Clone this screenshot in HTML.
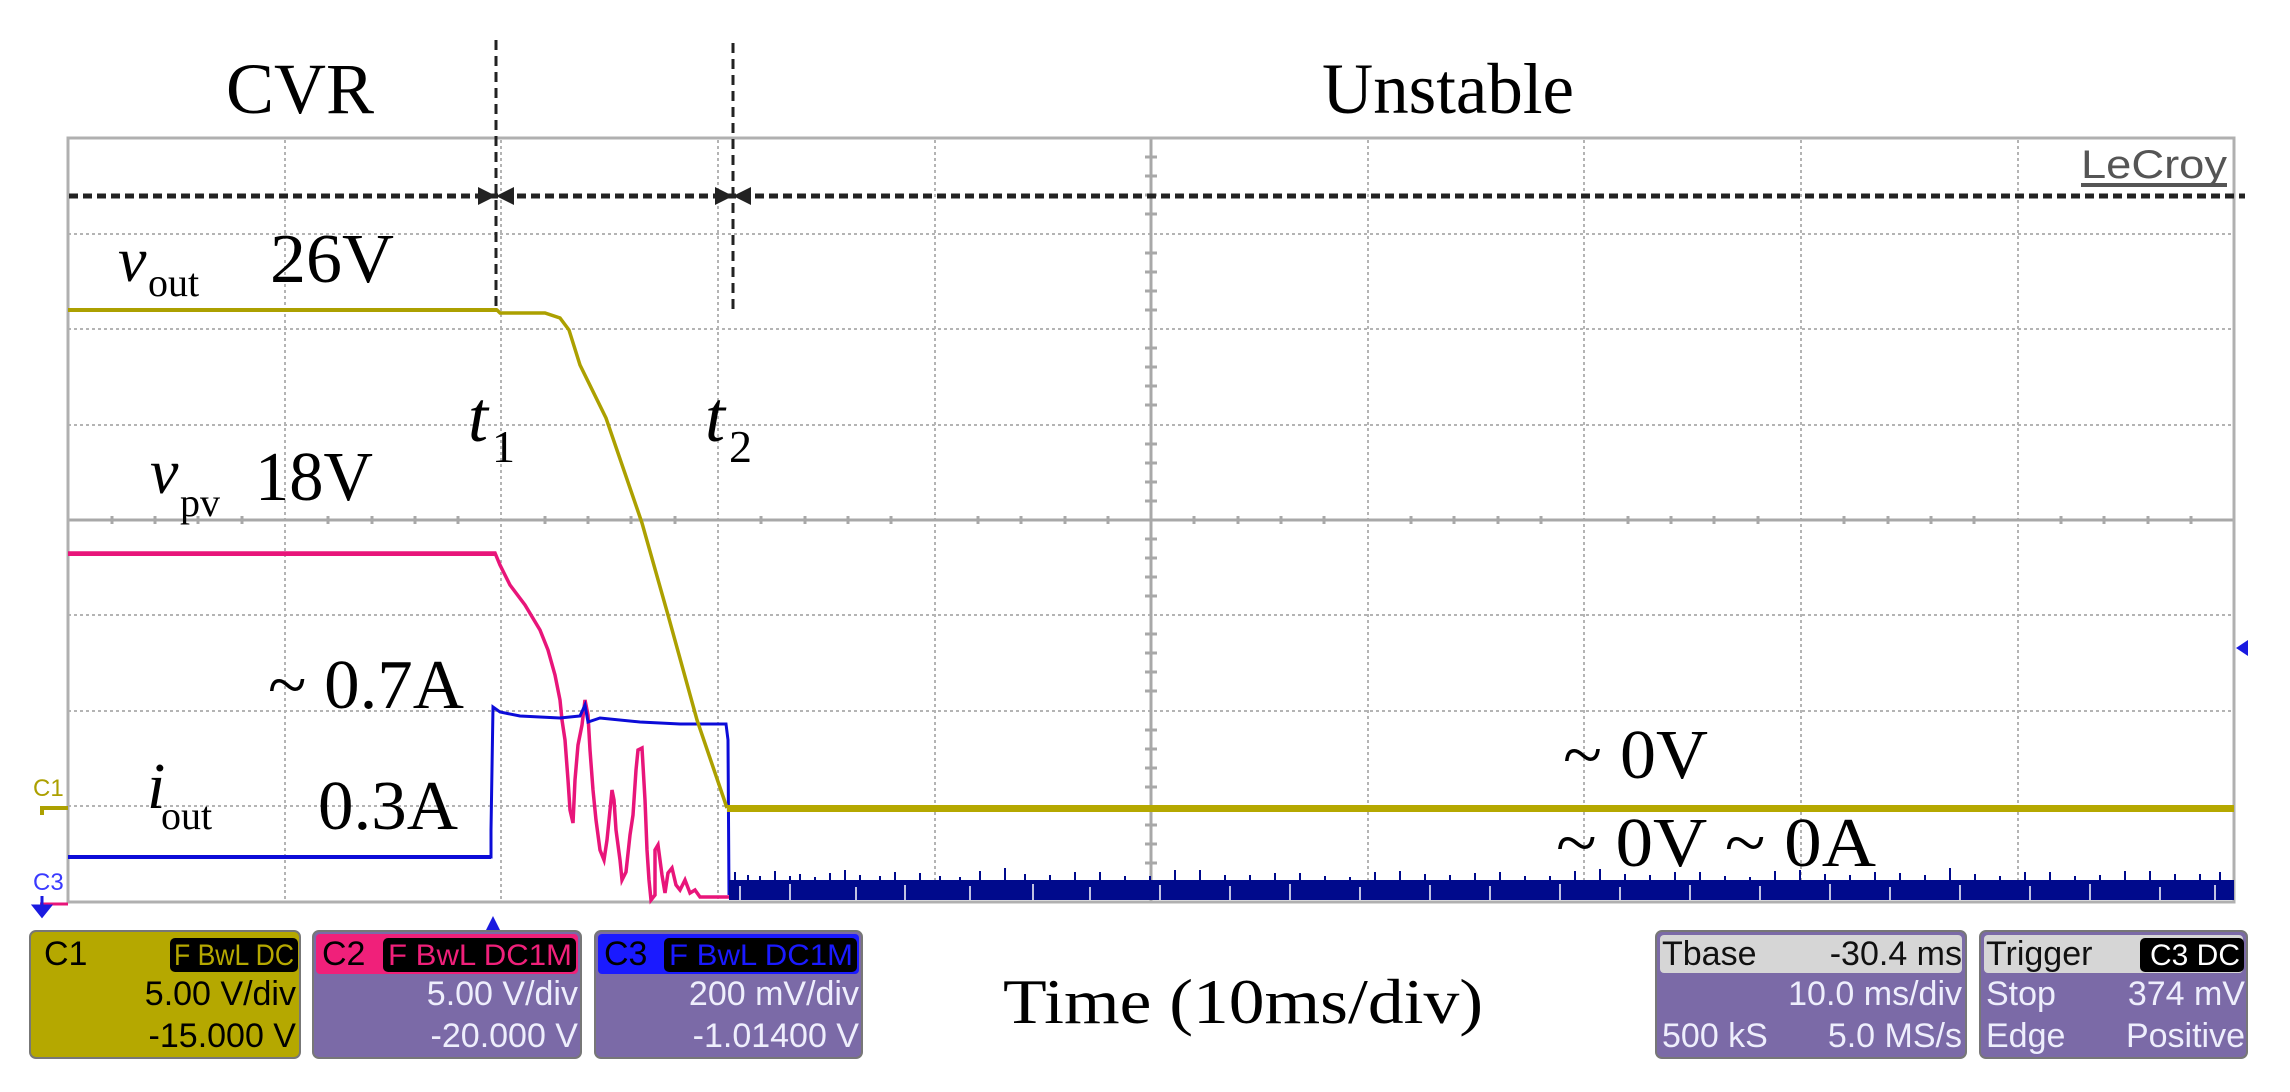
<!DOCTYPE html>
<html><head><meta charset="utf-8"><style>
html,body{margin:0;padding:0;background:#fff;}
svg{display:block;}
.s{font-family:"Liberation Serif",serif;fill:#000;}
.b{font-family:"Liberation Sans",sans-serif;}
</style></head><body>
<svg width="2290" height="1092" viewBox="0 0 2290 1092" xmlns="http://www.w3.org/2000/svg">
<rect width="2290" height="1092" fill="#fff"/>
<g stroke="#b4b4b4" stroke-width="2" stroke-dasharray="3,3" fill="none">
<path d="M285 140V902M501 140V902M718 140V902M935 140V902M1368 140V902M1584 140V902M1801 140V902M2018 140V902"/>
<path d="M68 234H2234M68 329H2234M68 425H2234M68 615H2234M68 711H2234M68 806H2234"/>
</g>
<g stroke="#a8a8a8" stroke-width="3" fill="none">
<path d="M1151 138V902M68 520H2234"/>
</g>
<g stroke="#a8a8a8" stroke-width="3">
<path d="M112 516v8M155 516v8M198 516v8M242 516v8M328 516v8M372 516v8M415 516v8M458 516v8M545 516v8M588 516v8M631 516v8M675 516v8M761 516v8M805 516v8M848 516v8M891 516v8M978 516v8M1021 516v8M1065 516v8M1108 516v8M1194 516v8M1238 516v8M1281 516v8M1324 516v8M1411 516v8M1454 516v8M1498 516v8M1541 516v8M1628 516v8M1671 516v8M1714 516v8M1758 516v8M1844 516v8M1888 516v8M1931 516v8M1974 516v8M2061 516v8M2104 516v8M2148 516v8M2191 516v8"/>
<path d="M1145 157h12M1145 176h12M1145 195h12M1145 214h12M1145 253h12M1145 272h12M1145 291h12M1145 310h12M1145 348h12M1145 367h12M1145 386h12M1145 405h12M1145 444h12M1145 463h12M1145 482h12M1145 501h12M1145 539h12M1145 558h12M1145 577h12M1145 596h12M1145 634h12M1145 653h12M1145 672h12M1145 691h12M1145 730h12M1145 749h12M1145 768h12M1145 787h12M1145 825h12M1145 844h12M1145 863h12M1145 882h12"/>
</g>
<rect x="68" y="138" width="2166" height="764" fill="none" stroke="#b0b0b0" stroke-width="3"/>
<text x="2081" y="178" class="b" font-size="40" fill="#555" textLength="146" lengthAdjust="spacingAndGlyphs">LeCroy</text>
<rect x="2081" y="183" width="146" height="4" fill="#555"/>
<polyline fill="none" stroke="#e8157a" stroke-width="3.5" points="68,553 495,553 500,565 510,585 525,605 540,630 548,650 555,675 560,700 562,720 565,740 568,780 570,810 573,823 575,780 578,745 582,725 585,700 588,715 590,750 593,790 596,820 600,850 604,860 607,840 610,810 612,790 614,800 616,830 620,860 622,880 626,872 630,835 633,815 636,770 638,750 642,748 645,800 647,850 649,880 651,900 655,895 655,850 658,845 662,875 665,893 668,873 672,868 676,885 680,890 685,880 690,893 695,890 700,897 730,897"/>
<polyline fill="none" stroke="#0c0cd8" stroke-width="3" points="68,857 491,857 491,830 493,707 500,712 520,716 560,718 580,716 585,705 588,722 600,718 640,722 680,724 726,724 728,740 729,895"/>
<rect x="68" y="552" width="427" height="4" fill="#e8157a"/>
<rect x="68" y="855" width="423" height="4" fill="#0c0cd8"/>
<rect x="729" y="880" width="1505" height="20" fill="#000a8c"/>
<path stroke="#000a8c" stroke-width="2" d="M735 872v10M748 875v8M760 876v8M775 871v10M790 876v6M800 874v8M815 877v6M830 873v9M845 870v12M860 875v6M880 876v6M895 872v9M920 873v9M940 876v6M960 877v6M980 871v10M1005 868v14M1025 874v8M1050 875v8M1075 872v10M1100 872v10M1125 876v6M1150 876v6M1175 870v12M1200 870v12M1225 875v8M1250 875v8M1275 873v9M1300 873v9M1325 876v6M1350 877v6M1375 872v10M1400 871v11M1425 874v8M1450 875v8M1475 873v9M1500 872v10M1525 876v6M1550 876v6M1575 871v11M1600 869v13M1625 874v8M1650 875v8M1675 872v10M1700 872v10M1725 876v6M1750 877v6M1775 871v11M1800 870v12M1825 874v8M1850 875v8M1875 872v10M1900 873v9M1925 875v7M1950 868v14M1975 874v8M2000 876v6M2025 872v10M2050 872v10M2075 876v6M2100 875v8M2125 871v11M2150 871v11M2175 874v8M2200 874v8M2220 872v10"/>
<g stroke="#fff" stroke-width="1.5"><path d="M740 886v14M790 884v16M856 887v13M905 885v15M970 886v14M1033 884v16M1090 887v13M1160 885v15M1230 886v14M1290 884v16M1360 887v13M1430 885v15M1490 886v14M1560 884v16M1620 887v13M1690 885v15M1760 886v14M1830 884v16M1890 887v13M1960 885v15M2030 886v14M2090 884v16M2160 887v13M2215 885v15"/></g>
<polyline fill="none" stroke="#aca000" stroke-width="3.5" points="68,310 497,310 500,313 545,313 560,318 569,330 580,365 606,418 642,523 668,615 697,720 727,808"/>
<rect x="68" y="308" width="429" height="4" fill="#aca000"/>
<rect x="727" y="805" width="1507" height="7" fill="#b5a800"/>
<text x="33" y="796" class="b" font-size="24" fill="#aca000">C1</text>
<path d="M40 806h28v4H44v5h-4z" fill="#aca000"/>
<text x="33" y="890" class="b" font-size="24" fill="#3a3aff">C3</text>
<path d="M40 904h28" stroke="#e8157a" stroke-width="3"/>
<path d="M42 896v14M34 906l8 10 8-10z" stroke="#1a1ae0" stroke-width="3" fill="#1a1ae0"/>
<path d="M493 916l-7 14h14z" fill="#1a1ae0"/>
<path d="M2236 648l12-8v16z" fill="#1a1ae0"/>
<g stroke="#222" stroke-width="3" fill="none" stroke-dasharray="10,6">
<path d="M496 40V310M733 43V310"/>
</g>
<path d="M69 196H2245" stroke="#222" stroke-width="5" stroke-dasharray="9,5"/>
<g fill="#222">
<path d="M496 196l-18-9v18zM496 196l18-9v18zM733 196l-18-9v18zM733 196l18-9v18z"/>
</g>
<g class="s">
<text x="226" y="113" font-size="72" textLength="148" lengthAdjust="spacingAndGlyphs">CVR</text>
<text x="1322" y="113" font-size="72" textLength="252" lengthAdjust="spacingAndGlyphs">Unstable</text>
<text x="118" y="281" font-size="64" font-style="italic">v</text>
<text x="148" y="296" font-size="40">out</text>
<text x="270" y="282" font-size="70" textLength="124" lengthAdjust="spacingAndGlyphs">26V</text>
<text x="468" y="441" font-size="72" font-style="italic">t</text>
<text x="492" y="462" font-size="46">1</text>
<text x="705" y="441" font-size="72" font-style="italic">t</text>
<text x="729" y="462" font-size="46">2</text>
<text x="150" y="493" font-size="64" font-style="italic">v</text>
<text x="180" y="516" font-size="40">pv</text>
<text x="255" y="500" font-size="70" textLength="118" lengthAdjust="spacingAndGlyphs">18V</text>
<text x="268" y="708" font-size="70" textLength="196" lengthAdjust="spacingAndGlyphs">~ 0.7A</text>
<text x="147" y="808" font-size="66" font-style="italic">i</text>
<text x="161" y="829" font-size="40">out</text>
<text x="318" y="829" font-size="70" textLength="140" lengthAdjust="spacingAndGlyphs">0.3A</text>
<text x="1563" y="778" font-size="70" textLength="145" lengthAdjust="spacingAndGlyphs">~ 0V</text>
<text x="1556" y="866" font-size="70" textLength="320" lengthAdjust="spacingAndGlyphs">~ 0V  ~ 0A</text>
<text x="1003" y="1023" font-size="64" textLength="480" lengthAdjust="spacingAndGlyphs">Time (10ms/div)</text>
</g>
<g class="b" font-size="34">
<rect x="30" y="931" width="270" height="127" rx="6" fill="#b5a800" stroke="#777" stroke-width="2"/>
<text x="44" y="965" fill="#000">C1</text>
<rect x="170" y="938" width="128" height="34" rx="5" fill="#000"/>
<text x="174" y="965" fill="#b5a800" font-size="30" textLength="120" lengthAdjust="spacingAndGlyphs">F BwL DC</text>
<text x="296" y="1005" text-anchor="end" fill="#000">5.00 V/div</text>
<text x="296" y="1047" text-anchor="end" fill="#000">-15.000 V</text>

<rect x="313" y="931" width="268" height="127" rx="6" fill="#7b6aa7" stroke="#777" stroke-width="2"/>
<rect x="316" y="934" width="262" height="40" rx="4" fill="#f0207a"/>
<text x="322" y="965" fill="#000">C2</text>
<rect x="383" y="938" width="193" height="34" rx="5" fill="#000"/>
<text x="388" y="965" fill="#f0207a" font-size="30" textLength="184" lengthAdjust="spacingAndGlyphs">F BwL DC1M</text>
<text x="578" y="1005" text-anchor="end" fill="#eeeefc">5.00 V/div</text>
<text x="578" y="1047" text-anchor="end" fill="#eeeefc">-20.000 V</text>

<rect x="595" y="931" width="267" height="127" rx="6" fill="#7b6aa7" stroke="#777" stroke-width="2"/>
<rect x="598" y="934" width="261" height="40" rx="4" fill="#1a1aff"/>
<text x="604" y="965" fill="#000">C3</text>
<rect x="664" y="938" width="193" height="34" rx="5" fill="#000"/>
<text x="669" y="965" fill="#1a1aff" font-size="30" textLength="184" lengthAdjust="spacingAndGlyphs">F BwL DC1M</text>
<text x="859" y="1005" text-anchor="end" fill="#eeeefc">200 mV/div</text>
<text x="859" y="1047" text-anchor="end" fill="#eeeefc">-1.01400 V</text>

<rect x="1656" y="931" width="310" height="127" rx="6" fill="#7b6aa7" stroke="#777" stroke-width="2"/>
<rect x="1660" y="935" width="302" height="38" rx="4" fill="#d6d6d6"/>
<text x="1662" y="965" fill="#111">Tbase</text>
<text x="1962" y="965" text-anchor="end" fill="#111">-30.4 ms</text>
<text x="1962" y="1005" text-anchor="end" fill="#eeeefc">10.0 ms/div</text>
<text x="1662" y="1047" fill="#eeeefc">500 kS</text>
<text x="1962" y="1047" text-anchor="end" fill="#eeeefc">5.0 MS/s</text>

<rect x="1980" y="931" width="267" height="127" rx="6" fill="#7b6aa7" stroke="#777" stroke-width="2"/>
<rect x="1984" y="935" width="259" height="38" rx="4" fill="#d6d6d6"/>
<text x="1986" y="965" fill="#111">Trigger</text>
<rect x="2140" y="938" width="104" height="34" rx="5" fill="#000"/>
<text x="2240" y="965" text-anchor="end" fill="#fff" font-size="30">C3 DC</text>
<text x="1986" y="1005" fill="#eeeefc">Stop</text>
<text x="2245" y="1005" text-anchor="end" fill="#eeeefc">374 mV</text>
<text x="1986" y="1047" fill="#eeeefc">Edge</text>
<text x="2245" y="1047" text-anchor="end" fill="#eeeefc">Positive</text>
</g>
</svg>
</body></html>
